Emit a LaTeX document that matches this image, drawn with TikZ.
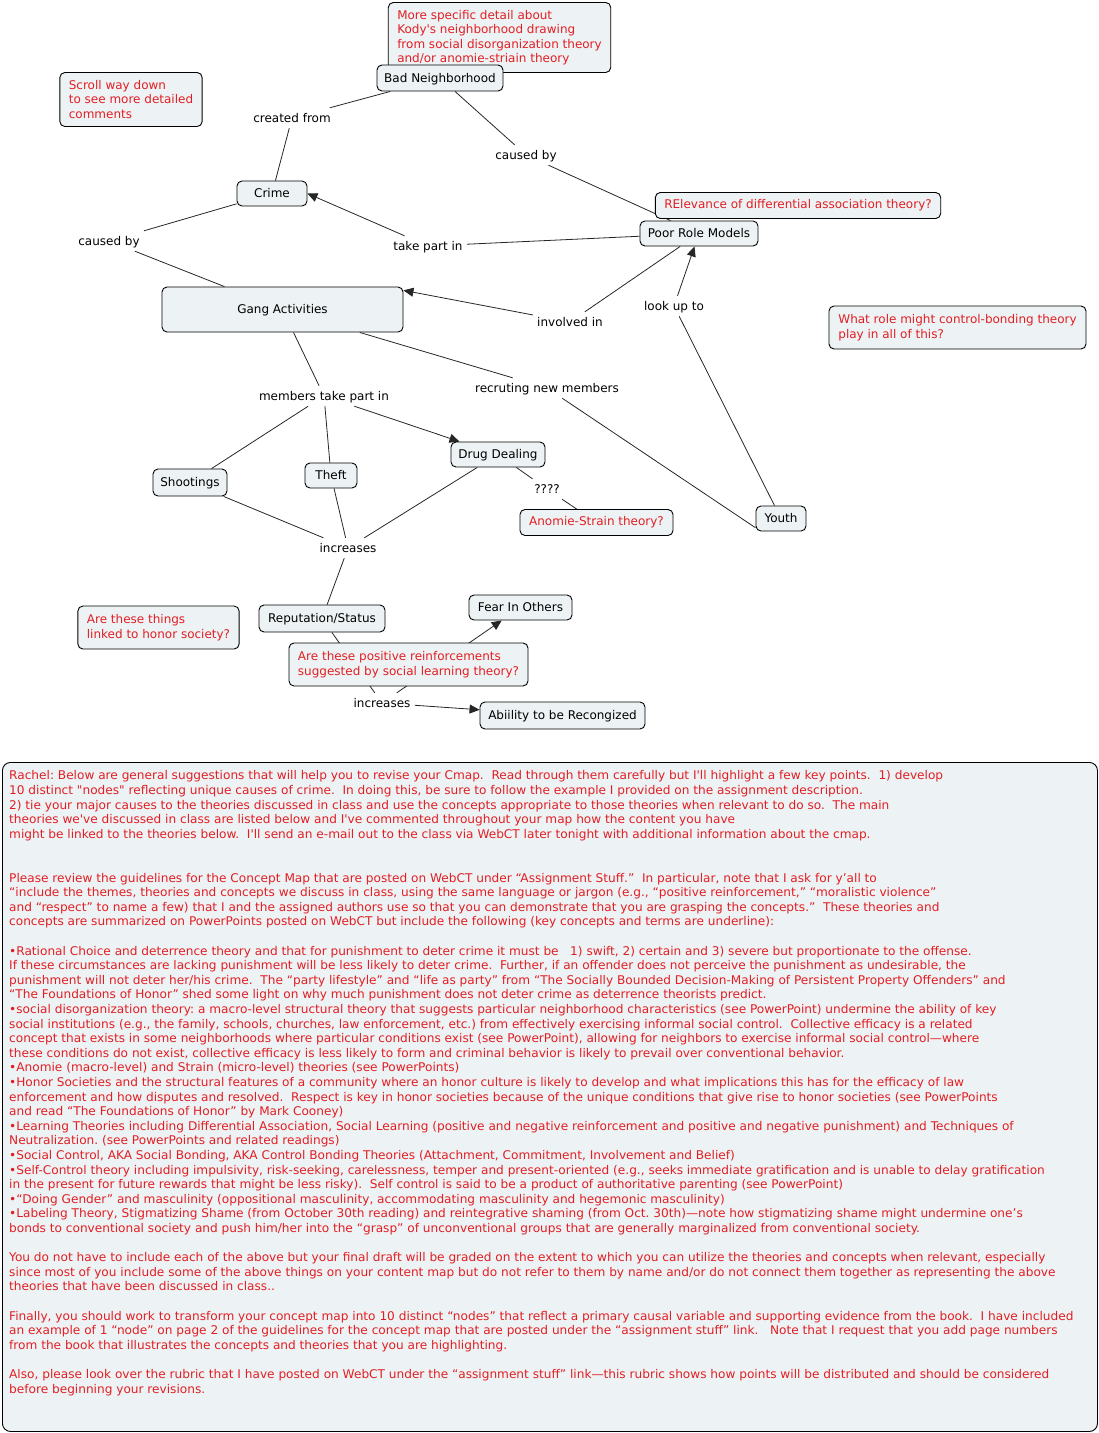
\documentclass[tikz,border=0pt]{standalone}
\usepackage{fontspec}
\setmainfont{DejaVu Sans}[Ligatures=TeXOff]
\newfontfamily\notefamily{DejaVu Sans}[Ligatures=TeXOff, FakeStretch=1.011]
\usetikzlibrary{arrows.meta}
\definecolor{boxfill}{RGB}{237,243,244}
\definecolor{cred}{RGB}{226,30,36}
\pgfdeclarelayer{bg}\pgfsetlayers{bg,main}
\newcommand\mapfont{\fontsize{12}{14.5}\selectfont}
\newcommand\notefont{\notefamily\fontsize{12}{14.6}\selectfont}
\tikzset{
  concept/.style={draw=black, line width=0.9pt, rounded corners=5pt, fill=boxfill,
    font=\mapfont, text height=10pt, text depth=2pt, inner sep=0pt, align=center},
  comment/.style={draw=black, line width=0.9pt, rounded corners=5pt, fill=boxfill,
    font=\mapfont, text=cred, align=left, inner xsep=9pt, inner ysep=0pt},
  linklabel/.style={font=\mapfont, text height=10pt, text depth=2pt, inner xsep=4pt, inner ysep=4pt},
  link/.style={line width=0.8pt, draw=black!85},
  arr/.style={link, -{Triangle[length=10pt,width=9pt]}},
  bigbox/.style={draw=black, line width=0.9pt, rounded corners=8pt, fill=boxfill, inner sep=0pt},
  notetext/.style={font=\notefont, text=cred, align=left, inner sep=0pt}
}
\begin{document}
\begin{tikzpicture}[x=1pt,y=-1pt]
\useasboundingbox (0,0) rectangle (1099,1433);
\frenchspacing
% comments
\node[comment, minimum width=221, minimum height=70] (c1) at (499.5,37.5)
  {More specific detail about\\Kody's neighborhood drawing\\from social disorganization theory\\and/or anomie-striain theory};
\node[comment, minimum width=140, minimum height=54] (c2) at (131,99.5)
  {Scroll way down\\to see more detailed\\comments};
\node[comment, minimum width=284, minimum height=26] (c3) at (798,205.5)
  {RElevance of differential association theory?};
\node[comment, minimum width=257, minimum height=43] (c4) at (957.5,327.5)
  {What role might control-bonding theory\\play in all of this?};
\node[comment, minimum width=153, minimum height=26] (c5) at (596.5,522.5)
  {Anomie-Strain theory?};
\node[comment, minimum width=161, minimum height=43] (c6) at (158.5,627.5)
  {Are these things\\linked to honor society?};
\node[comment, minimum width=237, minimum height=43] (c7) at (408.5,664.5)
  {Are these positive reinforcements\\suggested by social learning theory?};
% concepts
\node[concept, minimum width=126, minimum height=26] (bn) at (440,78) {Bad Neighborhood};
\node[concept, minimum width=70, minimum height=25] (crime) at (272,193.5) {Crime};
\node[concept, minimum width=118, minimum height=25] (prm) at (699,233.5) {Poor Role Models};
\node[concept, minimum width=241, minimum height=45] (ga) at (282.5,309.5) {Gang Activities};
\node[concept, minimum width=94, minimum height=25] (dd) at (498,454.5) {Drug Dealing};
\node[concept, minimum width=74, minimum height=27] (shoot) at (190,482.5) {Shootings};
\node[concept, minimum width=52, minimum height=25] (theft) at (331,475.5) {Theft};
\node[concept, minimum width=50, minimum height=25] (youth) at (781,518.5) {Youth};
\node[concept, minimum width=126, minimum height=27] (rep) at (322,618.5) {Reputation/Status};
\node[concept, minimum width=103, minimum height=25] (fear) at (520.5,607.5) {Fear In Others};
\node[concept, minimum width=165, minimum height=27] (abil) at (562.5,715.5) {Abiility to be Recongized};
% linking phrases
\node[linklabel] (lcf) at (292,118) {created from};
\node[linklabel] (lcba) at (526,155) {caused by};
\node[linklabel] (lcbb) at (109,241) {caused by};
\node[linklabel] (ltp) at (428,246) {take part in};
\node[linklabel] (linv) at (570,322) {involved in};
\node[linklabel] (llook) at (674,306) {look up to};
\node[linklabel] (lmem) at (324,396) {members take part in};
\node[linklabel] (lrec) at (547,388) {recruting new members};
\node[linklabel] (lq) at (547,489) {????};
\node[linklabel] (linca) at (348,548) {increases};
\node[linklabel] (lincb) at (382,703) {increases};
% connectors
\begin{pgfonlayer}{bg}
\draw[link] (crime) -- (lcf);
\draw[link] (bn) -- (lcf);
\draw[link] (bn) -- (lcba);
\draw[link] (lcba) -- (prm);
\draw[link] (prm) -- (ltp);
\draw[arr] (ltp) -- (crime.east);
\draw[link] (crime) -- (lcbb);
\draw[link] (lcbb) -- (ga);
\draw[link] (prm) -- (linv);
\draw[arr] (linv) -- (ga.9);
\draw[link] (youth) -- (llook);
\draw[arr] (llook) -- (prm);
\draw[link] (ga) -- (lrec);
\draw[link] (lrec) -- (youth.200);
\draw[link] (ga) -- (lmem);
\draw[link] (lmem) -- (shoot);
\draw[link] (lmem) -- (theft);
\draw[arr] (lmem) -- (dd);
\draw[link] (dd) -- (lq);
\draw[link] (lq) -- (c5);
\draw[link] (shoot) -- (linca);
\draw[link] (theft) -- (linca);
\draw[link] (dd) -- (linca);
\draw[link] (linca) -- (rep);
\draw[link] (rep) -- (lincb);
\draw[arr] (lincb) -- (fear);
\draw[arr] (lincb) -- (abil);
\end{pgfonlayer}
% notes
\node[bigbox, minimum width=1095, minimum height=669, anchor=north west] (notesbox) at (2,762) {};
\node[notetext, anchor=north west] (notes) at (9,770.5) {%
Rachel: Below are general suggestions that will help you to revise your Cmap.\ \ Read through them carefully but I'll highlight a few key points.\ \ 1) develop\\
10 distinct "nodes" reflecting unique causes of crime.\ \ In doing this, be sure to follow the example I provided on the assignment description.\\
2) tie your major causes to the theories discussed in class and use the concepts appropriate to those theories when relevant to do so.\ \ The main\\
theories we've discussed in class are listed below and I've commented throughout your map how the content you have\\
might be linked to the theories below.\ \ I'll send an e-mail out to the class via WebCT later tonight with additional information about the cmap.\\
\strut\\
\strut\\
Please review the guidelines for the Concept Map that are posted on WebCT under “Assignment Stuff.”\ \ In particular, note that I ask for y’all to\\
“include the themes, theories and concepts we discuss in class, using the same language or jargon (e.g., “positive reinforcement,” “moralistic violence”\\
and “respect” to name a few) that I and the assigned authors use so that you can demonstrate that you are grasping the concepts.”\ \ These theories and\\
concepts are summarized on PowerPoints posted on WebCT but include the following (key concepts and terms are underline):\\
\strut\\
•Rational Choice and deterrence theory and that for punishment to deter crime it must be\ \ \ 1) swift, 2) certain and 3) severe but proportionate to the offense.\\
If these circumstances are lacking punishment will be less likely to deter crime.\ \ Further, if an offender does not perceive the punishment as undesirable, the\\
punishment will not deter her/his crime.\ \ The “party lifestyle” and “life as party” from “The Socially Bounded Decision-Making of Persistent Property Offenders” and\\
“The Foundations of Honor” shed some light on why much punishment does not deter crime as deterrence theorists predict.\\
•social disorganization theory: a macro-level structural theory that suggests particular neighborhood characteristics (see PowerPoint) undermine the ability of key\\
social institutions (e.g., the family, schools, churches, law enforcement, etc.) from effectively exercising informal social control.\ \ Collective efficacy is a related\\
concept that exists in some neighborhoods where particular conditions exist (see PowerPoint), allowing for neighbors to exercise informal social control—where\\
these conditions do not exist, collective efficacy is less likely to form and criminal behavior is likely to prevail over conventional behavior.\\
•Anomie (macro-level) and Strain (micro-level) theories (see PowerPoints)\\
•Honor Societies and the structural features of a community where an honor culture is likely to develop and what implications this has for the efficacy of law\\
enforcement and how disputes and resolved.\ \ Respect is key in honor societies because of the unique conditions that give rise to honor societies (see PowerPoints\\
and read “The Foundations of Honor” by Mark Cooney)\\
•Learning Theories including Differential Association, Social Learning (positive and negative reinforcement and positive and negative punishment) and Techniques of\\
Neutralization. (see PowerPoints and related readings)\\
•Social Control, AKA Social Bonding, AKA Control Bonding Theories (Attachment, Commitment, Involvement and Belief)\\
•Self-Control theory including impulsivity, risk-seeking, carelessness, temper and present-oriented (e.g., seeks immediate gratification and is unable to delay gratification\\
in the present for future rewards that might be less risky).\ \ Self control is said to be a product of authoritative parenting (see PowerPoint)\\
•“Doing Gender” and masculinity (oppositional masculinity, accommodating masculinity and hegemonic masculinity)\\
•Labeling Theory, Stigmatizing Shame (from October 30th reading) and reintegrative shaming (from Oct. 30th)—note how stigmatizing shame might undermine one’s\\
bonds to conventional society and push him/her into the “grasp” of unconventional groups that are generally marginalized from conventional society.\\
\strut\\
You do not have to include each of the above but your final draft will be graded on the extent to which you can utilize the theories and concepts when relevant, especially\\
since most of you include some of the above things on your content map but do not refer to them by name and/or do not connect them together as representing the above\\
theories that have been discussed in class..\\
\strut\\
Finally, you should work to transform your concept map into 10 distinct “nodes” that reflect a primary causal variable and supporting evidence from the book.\ \ I have included\\
an example of 1 “node” on page 2 of the guidelines for the concept map that are posted under the “assignment stuff” link.\ \ \ Note that I request that you add page numbers\\
from the book that illustrates the concepts and theories that you are highlighting.\\
\strut\\
Also, please look over the rubric that I have posted on WebCT under the “assignment stuff” link—this rubric shows how points will be distributed and should be considered\\
before beginning your revisions.};
\end{tikzpicture}
\end{document}
